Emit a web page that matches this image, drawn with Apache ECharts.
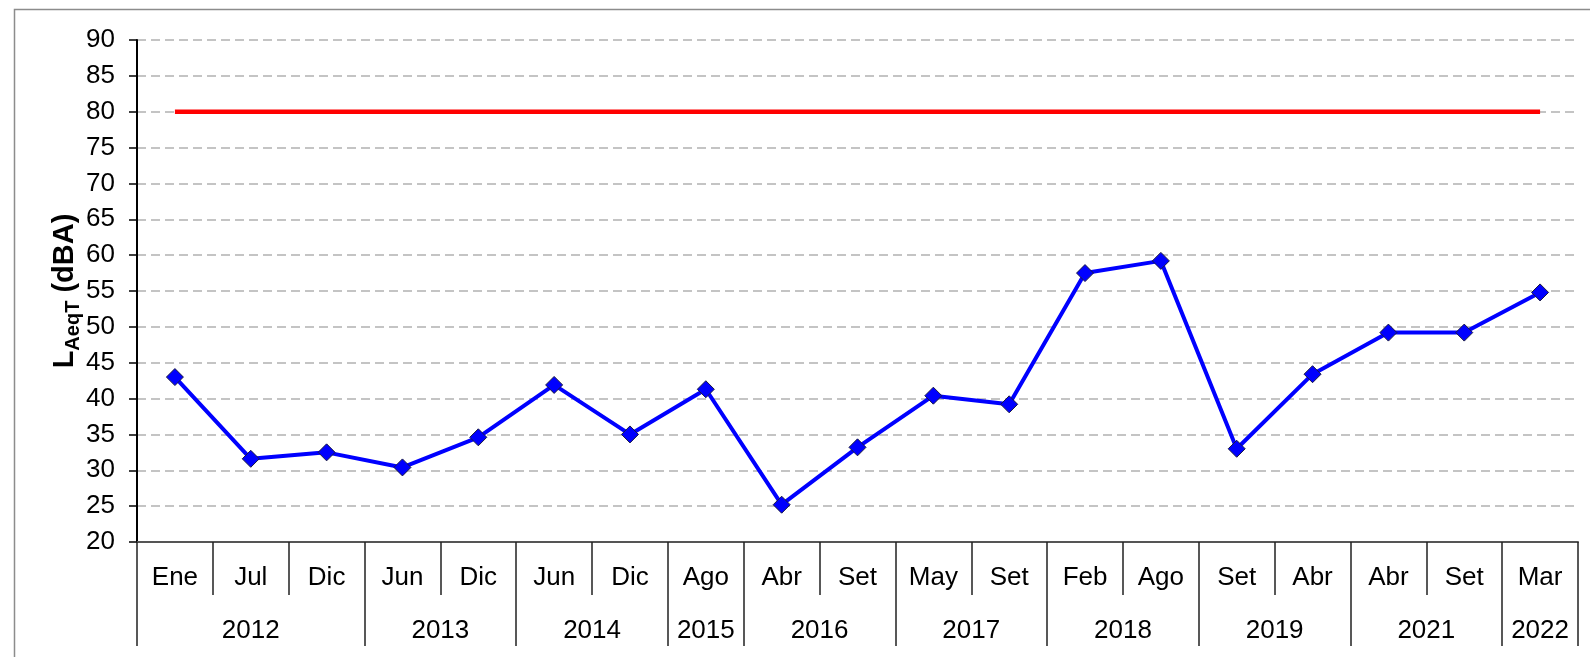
<!DOCTYPE html>
<html>
<head>
<meta charset="utf-8">
<script src="https://cdn.jsdelivr.net/npm/echarts@6/dist/echarts.min.js"></script>
<style>
  html, body { margin: 0; padding: 0; background: #fff; }
  #chart { width: 1590px; height: 657px; }
</style>
</head>
<body>
<div id="chart"></div>
<script>
const months = ['Ene', 'Jul', 'Dic', 'Jun', 'Dic', 'Jun', 'Dic', 'Ago', 'Abr', 'Set', 'May', 'Set', 'Feb', 'Ago', 'Set', 'Abr', 'Abr', 'Set', 'Mar'];
const years = ['2012', '2013', '2014', '2015', '2016', '2017', '2018', '2019', '2021', '2022'];
const yearSpans = [3, 2, 2, 1, 2, 2, 2, 2, 2, 1];
const laeqValues = [43.0, 31.6, 32.5, 30.4, 34.6, 41.9, 35.0, 41.3, 25.2, 33.2, 40.4, 39.2, 57.5, 59.2, 33.0, 43.4, 49.2, 49.2, 54.8];
const limitValue = 80;
const yMin = 20, yMax = 90, yStep = 5;

// second axis in half-category steps: labels sit in the middle of each year, ticks on its edges
const yearSlots = new Array(months.length * 2 + 1).fill('');
const yearEdges = new Set([0]);
let start = 0;
years.forEach((y, i) => {
  yearSlots[start * 2 + yearSpans[i]] = y;
  start += yearSpans[i];
  yearEdges.add(start * 2);
});

const font = 'Liberation Sans, Arial, sans-serif';
const chart = echarts.init(document.getElementById('chart'));

chart.setOption({
  animation: false,
  backgroundColor: '#fff',
  graphic: [{
    type: 'rect',
    left: 12, top: 7,
    shape: { width: 1620, height: 700 },
    style: { fill: 'none', stroke: '#8c8c8c', lineWidth: 1.5 },
    z: -1
  }],
  grid: { left: 137, right: 12, top: 40, bottom: 115 },
  xAxis: [
    {
      type: 'category',
      data: months,
      boundaryGap: true,
      axisLine: { lineStyle: { color: '#555', width: 2 } },
      axisTick: { show: true, interval: 0, length: 53, lineStyle: { color: '#222', width: 1.5 } },
      axisLabel: { interval: 0, margin: 23, color: '#000', fontSize: 26, fontFamily: font },
      splitLine: { show: false }
    },
    {
      type: 'category',
      data: yearSlots,
      position: 'bottom',
      boundaryGap: false,
      axisLine: { show: false },
      axisTick: {
        show: true,
        length: 104,
        interval: (idx) => yearEdges.has(idx),
        lineStyle: { color: '#222', width: 1.5 }
      },
      axisLabel: { interval: 0, margin: 76, color: '#000', fontSize: 26, fontFamily: font },
      splitLine: { show: false }
    }
  ],
  yAxis: {
    type: 'value',
    min: yMin, max: yMax, interval: yStep,
    name: '{big|L}{sub|AeqT}{big| (dBA)}',
    nameLocation: 'middle',
    nameRotate: 90,
    nameGap: 54,
    nameMoveOverlap: false,
    nameTextStyle: {
      rich: {
        big: { fontSize: 29, fontWeight: 'bold', fontFamily: font, color: '#000', lineHeight: 36 },
        sub: { fontSize: 20, fontWeight: 'bold', fontFamily: font, color: '#000', lineHeight: 20, verticalAlign: 'bottom' }
      }
    },
    axisLine: { show: true, lineStyle: { color: '#000', width: 2 } },
    axisTick: { show: true, length: 8, lineStyle: { color: '#000', width: 1.5 } },
    axisLabel: { margin: 22, color: '#000', fontSize: 26, fontFamily: font },
    splitLine: { show: true, lineStyle: { color: '#c4c4c4', width: 2, type: [9, 5] } }
  },
  series: [
    {
      name: 'Límite',
      type: 'line',
      data: months.map(() => limitValue),
      showSymbol: false,
      lineStyle: { color: '#ff0000', width: 4.5 },
      itemStyle: { color: '#ff0000' },
      z: 2
    },
    {
      name: 'LAeqT',
      type: 'line',
      data: laeqValues,
      symbol: 'diamond',
      symbolSize: 17,
      lineStyle: { color: '#0000ff', width: 4 },
      itemStyle: { color: '#0000ff', borderColor: '#1a1a40', borderWidth: 1 },
      z: 3
    }
  ]
});
</script>
</body>
</html>
